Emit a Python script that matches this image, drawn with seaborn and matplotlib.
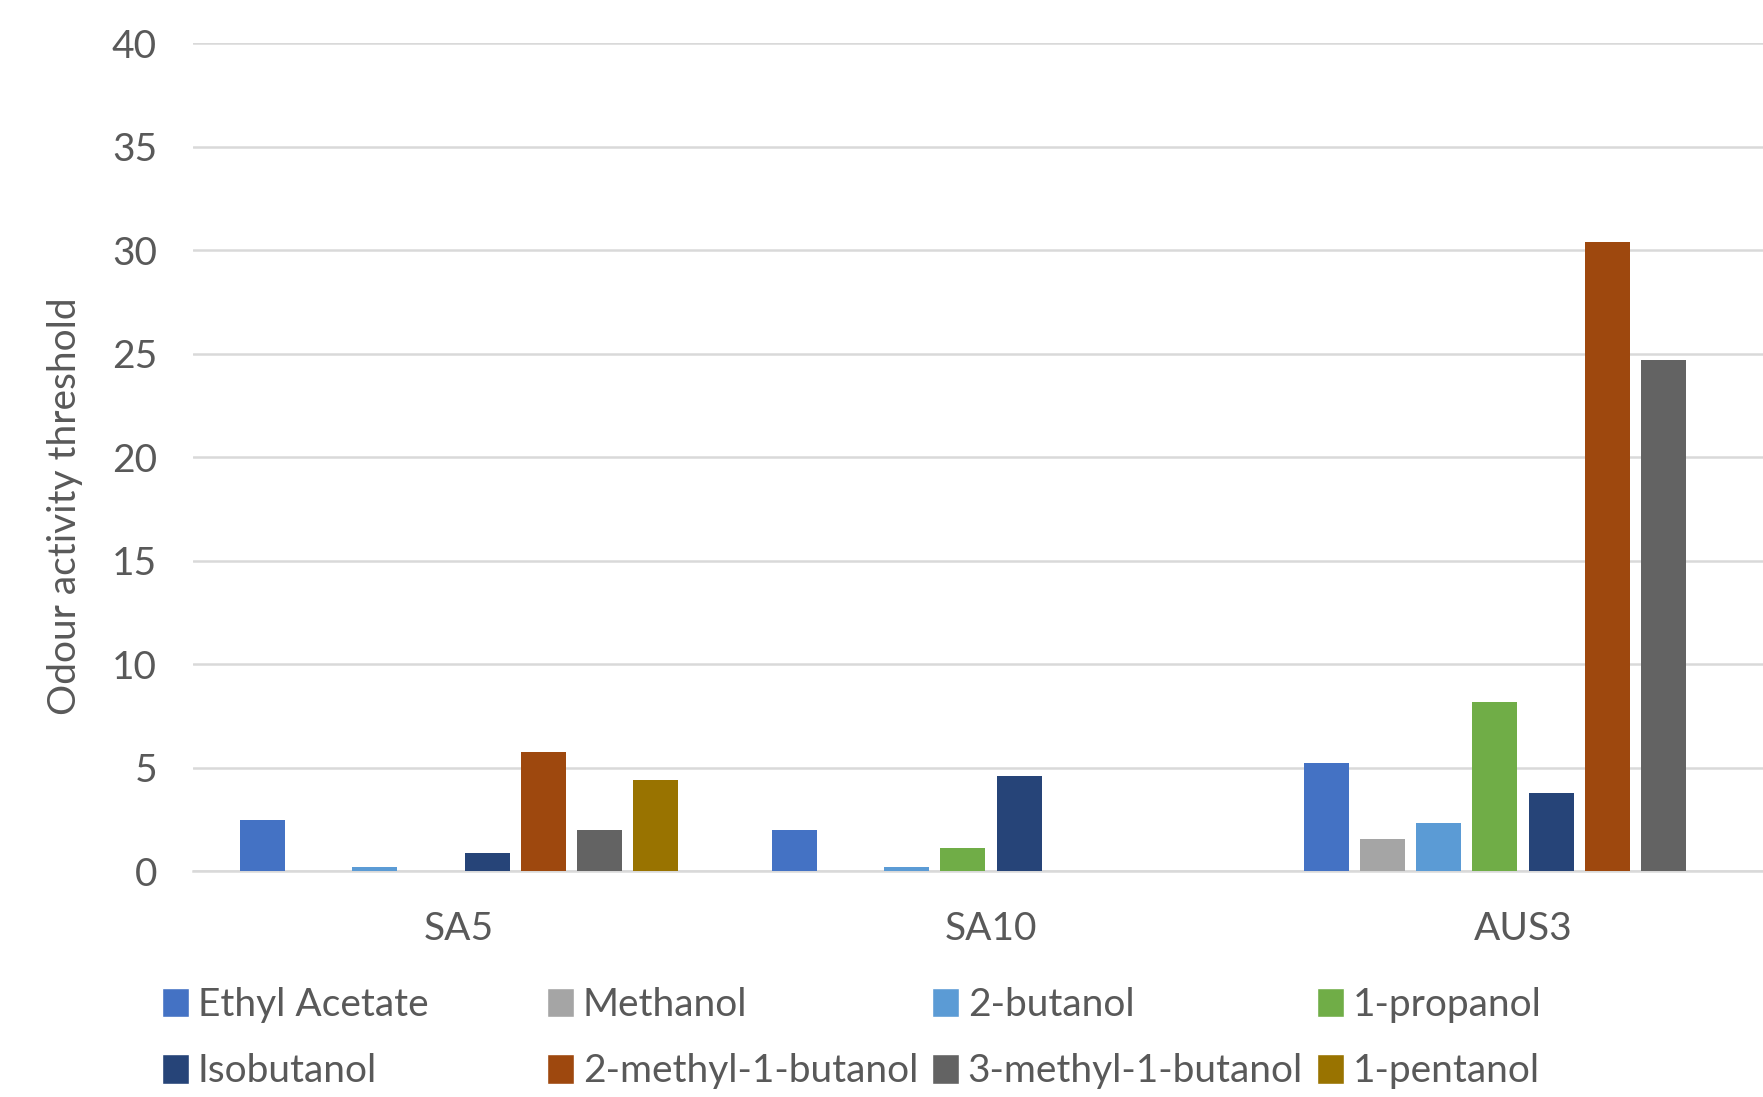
import pandas as pd
import matplotlib.pyplot as plt
import seaborn as sns
from matplotlib.patches import Patch

# data
samples = ["SA5", "SA10", "AUS3"]
compounds = ["Ethyl Acetate", "Methanol", "2-butanol", "1-propanol",
             "Isobutanol", "2-methyl-1-butanol", "3-methyl-1-butanol", "1-pentanol"]
sa5 = [2.45, 0, 0.19, 0, 0.88, 5.74, 1.96, 4.42]
sa10 = [1.96, 0, 0.21, 1.13, 4.57, 0, 0, 0]
aus3 = [5.24, 1.57, 2.31, 8.17, 3.75, 30.4, 24.7, 0]
colors = ["#4472C4", "#A5A5A5", "#5B9BD5", "#70AD47",
          "#264478", "#9E480E", "#636363", "#997300"]

rows = []
for s, vals in zip(samples, [sa5, sa10, aus3]):
    for c, v in zip(compounds, vals):
        rows.append({"sample": s, "compound": c, "value": v})
df = pd.DataFrame(rows)

sns.set_style("white")
plt.rcParams['font.family'] = ['Lato', 'DejaVu Sans']
text_col = "#595959"
fs = 28

fig = plt.figure(figsize=(17.63, 10.97), dpi=100)
ax = fig.add_axes([0.1095, 0.206, 0.8905, 0.7548])

sns.barplot(data=df, x="sample", y="value", hue="compound", hue_order=compounds,
            order=samples, palette=colors, saturation=1, width=0.846, gap=0.2,
            linewidth=0, legend=False, ax=ax, zorder=3)

ax.set_xlim(-0.5, 2.451)
ax.set_ylim(0, 40)
ax.set_yticks(range(0, 41, 5))
ax.grid(axis="y", color="#D9D9D9", linewidth=1.8, zorder=0)
ax.set_axisbelow(True)
for side in ["left", "right", "top"]:
    ax.spines[side].set_visible(False)
ax.spines["bottom"].set_color("#D9D9D9")
ax.spines["bottom"].set_linewidth(1.8)
ax.tick_params(axis="y", length=0, pad=26, labelsize=fs, labelcolor=text_col)
ax.tick_params(axis="x", length=0, pad=29, labelsize=fs, labelcolor=text_col)
ax.set_xlabel("")
ax.set_ylabel("")

fig.text(65 / 1763, 0.539, "Odour activity threshold", rotation=90,
         ha="center", va="center", fontsize=fs, color=text_col)

# legend: 4 columns of 2 entries, placed at fixed x positions
col_x = [162, 547, 932, 1317]
for i, x in enumerate(col_x):
    handles = [Patch(facecolor=colors[i], label=compounds[i]),
               Patch(facecolor=colors[i + 4], label=compounds[i + 4])]
    fig.legend(handles=handles, loc="upper left", bbox_to_anchor=(x / 1763, 1 - 987 / 1097),
               frameon=False, fontsize=fs, labelcolor=text_col,
               handlelength=0.7, handleheight=0.8, handletextpad=0.22,
               labelspacing=0.78, borderpad=0, borderaxespad=0)

fig.savefig("out.png", dpi=100)
